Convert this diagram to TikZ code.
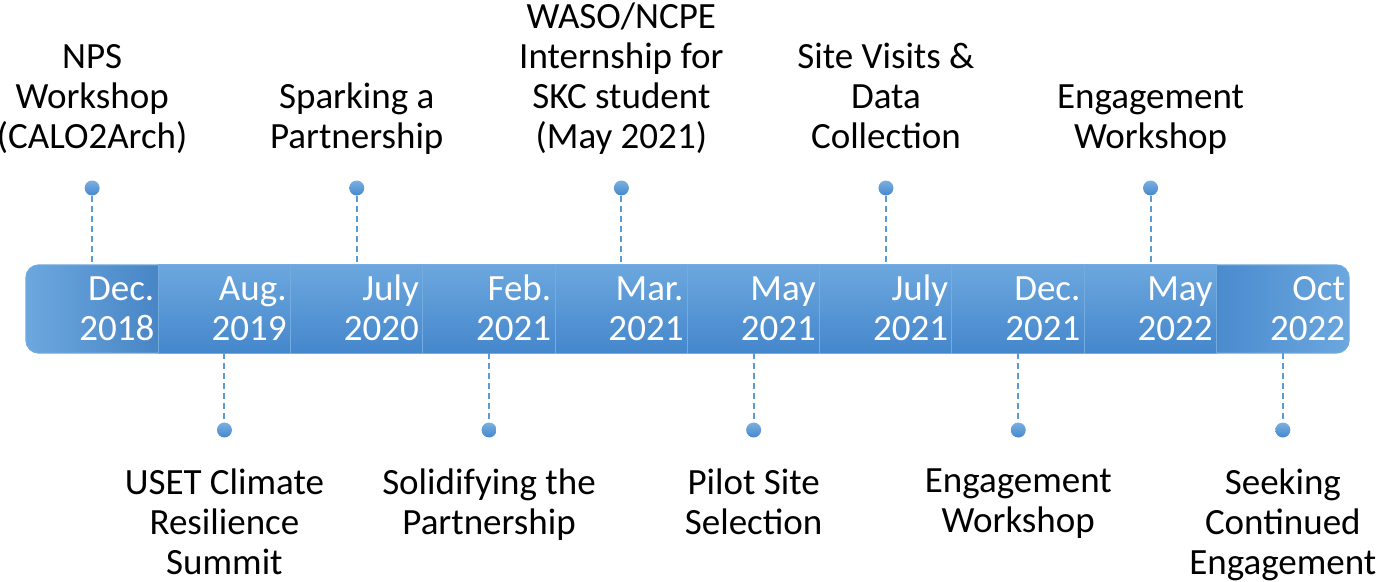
\documentclass[tikz,border=0pt]{standalone}
\usepackage{fontspec}
\setmainfont{Carlito}
\usepackage{xcolor}
\definecolor{xanhnhat}{HTML}{6CA7DE}
\definecolor{xanhdam}{HTML}{4587CC}
\definecolor{xanhvien}{HTML}{74ACDF}
\definecolor{xanhcham}{HTML}{5B9BD5}
\def\mauchu{white}
\usetikzlibrary{calc,positioning}

\begin{document}
\begin{tikzpicture}[x=1pt,y=-1pt,declare function={%
			w=132.3;
			xa=26;
		}
		]%
		\tikzset{
			khung/.style={rectangle,inner sep=0pt,minimum width=w*1pt,minimum height=88pt},
			o/.style={top color=xanhnhat,bottom color=xanhdam,draw=xanhvien,line width=1pt},
			dau/.style={draw=xanhvien,line width=1pt,rounded corners=13pt},
			chuden/.style={font=\fontsize{37}{40}\selectfont,align=center,text=black,inner sep=0pt},
			chutrang/.style={font=\fontsize{37}{40}\selectfont,align=right,text=\mauchu,inner sep=0pt},
			cham/.style={circle,minimum size=15pt,inner sep=0pt,top color=xanhnhat!90,bottom color=xanhdam},
			netdut/.style={draw=xanhcham,line width=2pt,dash pattern=on 6pt off 4pt}
		}
		\useasboundingbox (0,0) rectangle (1376,581);
		%%%Các ô của thanh thời gian
		\foreach \i in {1,...,10}{%
			\path (xa+\i*w-w/2,309) node[khung] (s\i) {};
		}
		%%%hai đầu bo tròn
		\path[dau,left color=xanhnhat,right color=xanhdam!95!black] (s1.north west) rectangle ($(s1.south east)+(20,0)$);
		\path[dau,left color=xanhdam,right color=xanhnhat] ($(s10.north west)-(20,0)$) rectangle (s10.south east);
		\foreach \i in {2,...,9}{%
			\path[o] (s\i.north west) rectangle (s\i.south east);
		}
		%%%Ngày tháng
		\foreach \t/\n [count=\i] in {Dec./2018,Aug./2019,July/2020,Feb./2021,Mar./2021,May/2021,July/2021,Dec./2021,May/2022,Oct/2022}{%
			\path (s\i.east) ++(-4,0) coordinate (g\i);
			\path (g\i|-0,340) node[chutrang,anchor=base east] (d\i) {\t\\\n};
		}
		%%%Sự kiện phía trên
		\foreach \i/\ten in {1/{NPS\\Workshop\\(CALO2Arch)},3/{Sparking a\\Partnership},5/{WASO/NCPE\\Internship for\\SKC student\\(May 2021)},7/{Site Visits \&\\Data\\Collection},9/{Engagement\\Workshop}}{%
			\path (s\i|-0,188) node[cham] (c\i) {};
			\draw[netdut] (c\i) -- (c\i|-s\i.north);
			\path (s\i|-0,148) node[chuden,anchor=base] (t\i) {\ten};
		}
		%%%Sự kiện phía dưới
		\foreach \i/\ten in {2/{USET Climate\\Resilience\\Summit},4/{Solidifying the\\Partnership},6/{Pilot Site\\Selection},8/{Engagement\\Workshop},10/{Seeking\\Continued\\Engagement}}{%
			\path (s\i|-0,430) node[cham] (c\i) {};
			\draw[netdut] (c\i|-s\i.south) -- (c\i);
			\path (s\i|-0,469) node[chuden,anchor=north,execute at begin node=\strut] (t\i) {\ten};
		}
	\end{tikzpicture}
\end{document}
